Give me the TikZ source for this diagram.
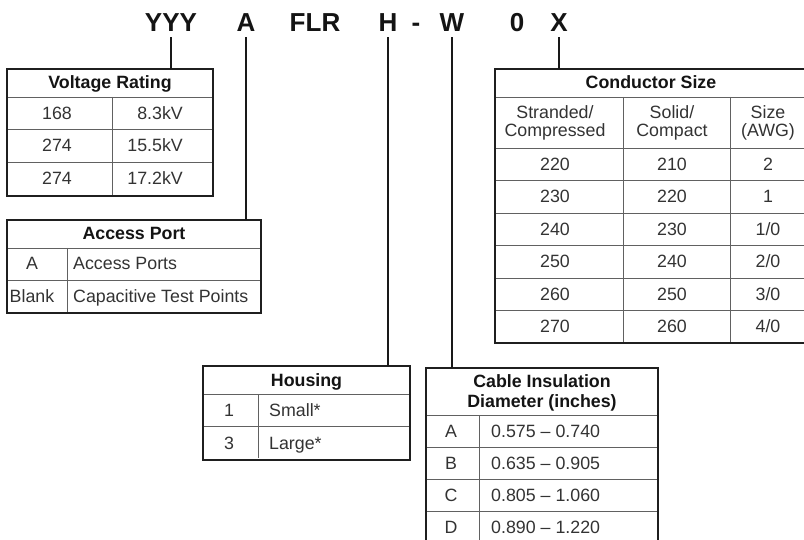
\documentclass[tikz,border=0pt]{standalone}
\usepackage{fontspec}
\setmainfont{Liberation Sans}
\begin{document}
\begin{tikzpicture}[x=1pt,y=-1pt,
  titletxt/.style={font=\fontsize{26}{28}\selectfont\bfseries, inner sep=0pt, anchor=base, text=black!92},
  frame/.style={draw=black!88, line width=1.8pt, anchor=north west, inner sep=0pt, outer sep=0pt},
  gridline/.style={draw=black!62, line width=0.9pt},
  conn/.style={draw=black!90, line width=1.8pt},
  cell/.style={font=\fontsize{17.8}{20}\selectfont, text=black!80, inner sep=0pt, anchor=base},
  lcell/.style={cell, anchor=base west},
  rcell/.style={cell, anchor=base east},
  head/.style={font=\fontsize{17.8}{19}\selectfont\bfseries, text=black!92, inner sep=0pt, anchor=base, align=center},
  sub/.style={font=\fontsize{17.8}{18.5}\selectfont, text=black!80, inner sep=0pt, align=center}]
\clip (0,0) rectangle (804,540);
\fill[white] (0,0) rectangle (804,540);

% ---------- title code ----------
\node[titletxt] (tY) at (171,32) {YYY};
\node[titletxt] (tA) at (246,32) {A};
\node[titletxt] (tF) at (315,32) {FLR};
\node[titletxt] (tH) at (388,32) {H};
\node[titletxt] (tD) at (416,32) {-};
\node[titletxt] (tW) at (452,32) {W};
\node[titletxt] (t0) at (517,32) {0};
\node[titletxt] (tX) at (559,32) {X};

% ---------- Voltage Rating ----------
\draw[gridline] (7,97) -- (213,97);
\draw[gridline] (7,129.5) -- (213,129.5);
\draw[gridline] (7,162) -- (213,162);
\draw[gridline] (112,97) -- (112,196);
\node[frame, minimum width=206pt, minimum height=127pt] (vt) at (7,69) {};
\node[head] (vth) at (110,89) {Voltage Rating};
\node[cell] (v1a) at (57,119.5) {168};
\node[rcell] (v1b) at (183,119.5) {8.3kV};
\node[cell] (v2a) at (57,152) {274};
\node[rcell] (v2b) at (183,152) {15.5kV};
\node[cell] (v3a) at (57,185) {274};
\node[rcell] (v3b) at (183,185) {17.2kV};

% ---------- Access Port ----------
\draw[gridline] (7,248) -- (261,248);
\draw[gridline] (7,280) -- (261,280);
\draw[gridline] (67,248) -- (67,313);
\node[frame, minimum width=254pt, minimum height=93pt] (ap) at (7,220) {};
\node[head] (aph) at (134,240) {Access Port};
\node[cell] (a1a) at (32,270) {A};
\node[lcell] (a1b) at (73,270) {Access Ports};
\node[cell] (a2a) at (32,302.5) {Blank};
\node[lcell] (a2b) at (73,302.5) {Capacitive Test Points};

% ---------- Housing ----------
\draw[gridline] (203,394) -- (410,394);
\draw[gridline] (203,426) -- (410,426);
\draw[gridline] (258,394) -- (258,458);
\node[frame, minimum width=207pt, minimum height=94pt] (hs) at (203,366) {};
\node[head] (hsh) at (306.5,386) {Housing};
\node[cell] (h1a) at (229,416) {1};
\node[lcell] (h1b) at (269,416) {Small*};
\node[cell] (h2a) at (229,449) {3};
\node[lcell] (h2b) at (269,449) {Large*};

% ---------- Cable Insulation ----------
\draw[gridline] (426,415) -- (658,415);
\draw[gridline] (426,447) -- (658,447);
\draw[gridline] (426,479) -- (658,479);
\draw[gridline] (426,511) -- (658,511);
\draw[gridline] (479,415) -- (479,544);
\node[frame, minimum width=232pt, minimum height=178pt] (ci) at (426,368) {};
\node[head] (cih1) at (542,388) {Cable Insulation};
\node[head] (cih2) at (542,407) {Diameter (inches)};
\node[cell] (c1a) at (451,437) {A};
\node[lcell] (c1b) at (491,437) {0.575 – 0.740};
\node[cell] (c2a) at (451,469) {B};
\node[lcell] (c2b) at (491,469) {0.635 – 0.905};
\node[cell] (c3a) at (451,501) {C};
\node[lcell] (c3b) at (491,501) {0.805 – 1.060};
\node[cell] (c4a) at (451,533) {D};
\node[lcell] (c4b) at (491,533) {0.890 – 1.220};

% ---------- Conductor Size ----------
\draw[gridline] (495,97) -- (807,97);
\foreach \yy in {148,180.5,213,245.5,278,310.5}
  \draw[gridline] (495,\yy) -- (807,\yy);
\draw[gridline] (623,97) -- (623,343);
\draw[gridline] (730,97) -- (730,343);
\node[frame, minimum width=312pt, minimum height=274pt] (cs) at (495,69) {};
\node[head] (csh) at (651,89) {Conductor Size};
\node[sub] (s1) at (555,123) {Stranded/\\Compressed};
\node[sub] (s2) at (672,123) {Solid/\\Compact};
\node[sub] (s3) at (768,123) {Size\\(AWG)};
\foreach \ya/\a/\b/\c [count=\i] in {170.5/220/210/2, 203/230/220/1, 235.5/240/230/1\slash 0, 268/250/240/2\slash 0, 300.5/260/250/3\slash 0, 333/270/260/4\slash 0}{
  \node[cell] (r\i a) at (555,\ya) {\a};
  \node[cell] (r\i b) at (672,\ya) {\b};
  \node[cell] (r\i c) at (768,\ya) {\c};
}

% ---------- connectors ----------
\draw[conn, shorten <=5pt] (tY.south) -- (tY.south |- vt.north);
\draw[conn, shorten <=5pt] (tA.south) -- (tA.south |- ap.north);
\draw[conn, shorten <=5pt] (tH.south) -- (tH.south |- hs.north);
\draw[conn, shorten <=5pt] (tW.south) -- (tW.south |- ci.north);
\draw[conn, shorten <=5pt] (tX.south) -- (tX.south |- cs.north);
\end{tikzpicture}
\end{document}
